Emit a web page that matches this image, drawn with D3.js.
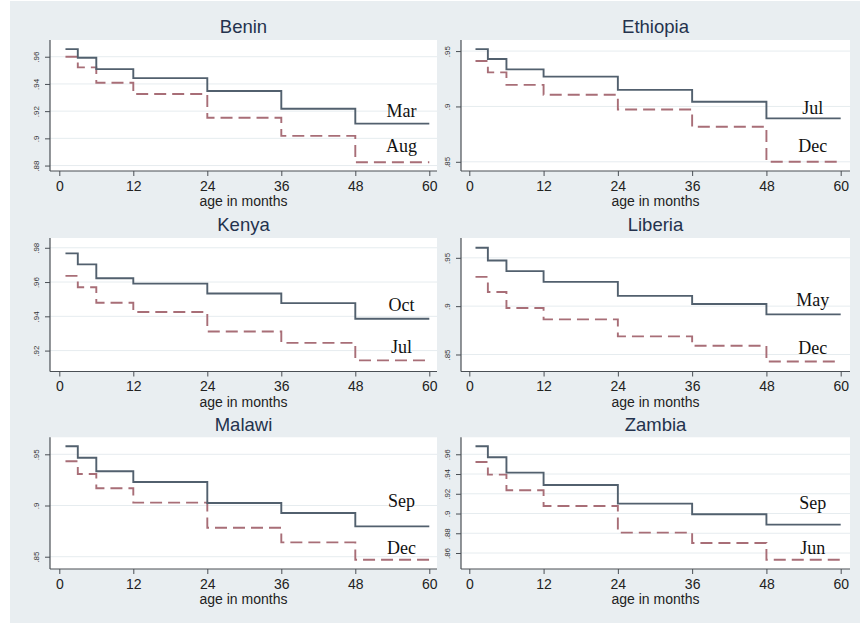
<!DOCTYPE html>
<html>
<head>
<meta charset="utf-8">
<script src="https://cdn.jsdelivr.net/npm/d3@7"></script>
<style>
  html, body { margin: 0; padding: 0; background: #ffffff; }
  svg { display: block; }
</style>
</head>
<body>
<svg id="chart" width="860" height="623"></svg>
<script>
// Survival by age for six countries, best vs. worst birth month
const countries = ["Benin", "Ethiopia", "Kenya", "Liberia", "Malawi", "Zambia"];
const stepMonths = [1, 3, 6, 12, 24, 36, 48, 60];
const xTicks = [0, 12, 24, 36, 48, 60];

// Solid series (higher survival) per country, one value per interval
const benHigh = [0.9656, 0.9593, 0.9509, 0.9443, 0.9348, 0.9218, 0.9108];
const ethHigh = [0.9518, 0.9428, 0.9335, 0.9269, 0.9150, 0.9042, 0.8892];
const kenHigh = [0.9767, 0.9703, 0.9622, 0.9591, 0.9533, 0.9477, 0.9386];
const libHigh = [0.9604, 0.9472, 0.9362, 0.9251, 0.9106, 0.9022, 0.8915];
const malHigh = [0.9578, 0.9467, 0.9334, 0.9230, 0.9024, 0.8927, 0.8796];
const zamHigh = [0.9681, 0.9570, 0.9414, 0.9289, 0.9100, 0.8992, 0.8887];

// Dashed series (lower survival)
const benLow = [0.9600, 0.9522, 0.9409, 0.9326, 0.9152, 0.9018, 0.8824];
const ethLow = [0.9410, 0.9308, 0.9195, 0.9105, 0.8973, 0.8817, 0.8500];
const kenLow = [0.9636, 0.9570, 0.9479, 0.9425, 0.9311, 0.9245, 0.9143];
const libLow = [0.9303, 0.9147, 0.8981, 0.8863, 0.8687, 0.8590, 0.8427];
const malLow = [0.9432, 0.9308, 0.9168, 0.9028, 0.8783, 0.8640, 0.8471];
const zamLow = [0.9522, 0.9394, 0.9235, 0.9076, 0.8806, 0.8701, 0.8532];

const highSeries = [benHigh, ethHigh, kenHigh, libHigh, malHigh, zamHigh];
const lowSeries = [benLow, ethLow, kenLow, libLow, malLow, zamLow];

// Month names written beside each curve
const highLabels = ["Mar", "Jul", "Oct", "May", "Sep", "Sep"];
const lowLabels = ["Aug", "Dec", "Jul", "Dec", "Dec", "Jun"];
const highLabelY = [0.9154, 0.8931, 0.9431, 0.8998, 0.8988, 0.9046];
const lowLabelY = [0.8901, 0.8586, 0.9188, 0.8500, 0.8526, 0.8590];
const labelMonth = 55.5;

// Y axis ticks and ranges
const yTicks = [
  [0.88, 0.90, 0.92, 0.94, 0.96],
  [0.85, 0.90, 0.95],
  [0.92, 0.94, 0.96, 0.98],
  [0.85, 0.90, 0.95],
  [0.85, 0.90, 0.95],
  [0.86, 0.88, 0.90, 0.92, 0.94, 0.96]
];
const yRanges = [
  [0.8760, 0.9723],
  [0.8417, 0.9600],
  [0.9078, 0.9857],
  [0.8324, 0.9705],
  [0.8380, 0.9666],
  [0.8438, 0.9772]
];

const svg = d3.select("#chart");

// Graph background
svg.append("rect")
  .attr("x", 10).attr("y", 1)
  .attr("width", 850).attr("height", 622)
  .attr("fill", "#e9eef1");

// Panel grid geometry
const cols = [
  { axis: 50, x0: 59.3, x60: 429.3, right: 437 },
  { axis: 461, x0: 469.3, x60: 840.7, right: 850 }
];
const rows = [
  { top: 40, bottom: 171 },
  { top: 238, bottom: 371.5 },
  { top: 437.3, bottom: 569 }
];

const fmtTick = v => String(+v.toFixed(2)).replace(/^0/, "");

countries.forEach((name, i) => {
  const c = cols[i % 2];
  const r = rows[Math.floor(i / 2)];

  const x = d3.scaleLinear().domain([0, 60]).range([c.x0, c.x60]);
  const y = d3.scaleLinear().domain(yRanges[i]).range([r.bottom, r.top]);

  const g = svg.append("g");

  // Plot region
  g.append("rect")
    .attr("x", c.axis).attr("y", r.top)
    .attr("width", c.right - c.axis).attr("height", r.bottom - r.top)
    .attr("fill", "#ffffff");

  // Horizontal grid lines
  g.selectAll("line.grid").data(yTicks[i]).enter().append("line")
    .attr("class", "grid")
    .attr("x1", c.axis).attr("x2", c.right)
    .attr("y1", d => y(d)).attr("y2", d => y(d))
    .attr("stroke", "#e6ecef").attr("stroke-width", 1);

  // Y axis
  const yAxis = d3.axisLeft(y).tickValues(yTicks[i]).tickFormat(fmtTick).tickSize(5).tickSizeOuter(0);
  const ya = g.append("g").attr("transform", `translate(${c.axis},0)`).call(yAxis);
  ya.select(".domain").attr("d", `M0,${r.top}V${r.bottom}`).attr("stroke", "#4a4f55").attr("stroke-width", 1.2);
  ya.selectAll(".tick line").attr("stroke", "#4a4f55");
  ya.selectAll(".tick text")
    .attr("font-family", "Liberation Sans, Arial, sans-serif")
    .attr("font-size", 8)
    .attr("fill", "#333")
    .attr("x", 0).attr("dy", 0)
    .attr("text-anchor", "middle")
    .attr("transform", "translate(-11,0) rotate(-90)");

  // X axis
  const xAxis = d3.axisBottom(x).tickValues(xTicks).tickFormat(d3.format("d")).tickSize(5).tickSizeOuter(0);
  const xa = g.append("g").attr("transform", `translate(0,${r.bottom})`).call(xAxis);
  xa.select(".domain").attr("d", `M${c.axis},0H${c.right}`).attr("stroke", "#4a4f55").attr("stroke-width", 1.2);
  xa.selectAll(".tick line").attr("stroke", "#4a4f55");
  xa.selectAll(".tick text")
    .attr("font-family", "Liberation Sans, Arial, sans-serif")
    .attr("font-size", 14)
    .attr("fill", "#222")
    .attr("y", 19.5).attr("dy", 0);

  // Axis title
  g.append("text")
    .attr("x", (c.axis + c.right) / 2).attr("y", r.bottom + 35)
    .attr("text-anchor", "middle")
    .attr("font-family", "Liberation Sans, Arial, sans-serif")
    .attr("font-size", 14).attr("fill", "#222")
    .text("age in months");

  // Panel title
  g.append("text")
    .attr("x", (c.axis + c.right) / 2).attr("y", r.top - 6.8)
    .attr("text-anchor", "middle")
    .attr("font-family", "Liberation Sans, Arial, sans-serif")
    .attr("font-size", 18.5).attr("fill", "#24324d")
    .text(name);

  // Step curves
  const line = d3.line().x(d => x(d[0])).y(d => y(d[1])).curve(d3.curveStepAfter);
  const pts = vals => stepMonths.map((m, k) => [m, vals[Math.min(k, vals.length - 1)]]);

  g.append("path")
    .attr("d", line(pts(lowSeries[i])))
    .attr("fill", "none")
    .attr("stroke", "#a86e77").attr("stroke-width", 1.9)
    .attr("stroke-dasharray", "12,6");

  g.append("path")
    .attr("d", line(pts(highSeries[i])))
    .attr("fill", "none")
    .attr("stroke", "#52606e").attr("stroke-width", 1.9);

  // Month labels
  [[highLabels[i], highLabelY[i]], [lowLabels[i], lowLabelY[i]]].forEach(([t, v]) => {
    g.append("text")
      .attr("x", x(labelMonth)).attr("y", y(v))
      .attr("text-anchor", "middle")
      .attr("font-family", "Liberation Serif, Times New Roman, serif")
      .attr("font-size", 18).attr("fill", "#111")
      .text(t);
  });
});
</script>
</body>
</html>
